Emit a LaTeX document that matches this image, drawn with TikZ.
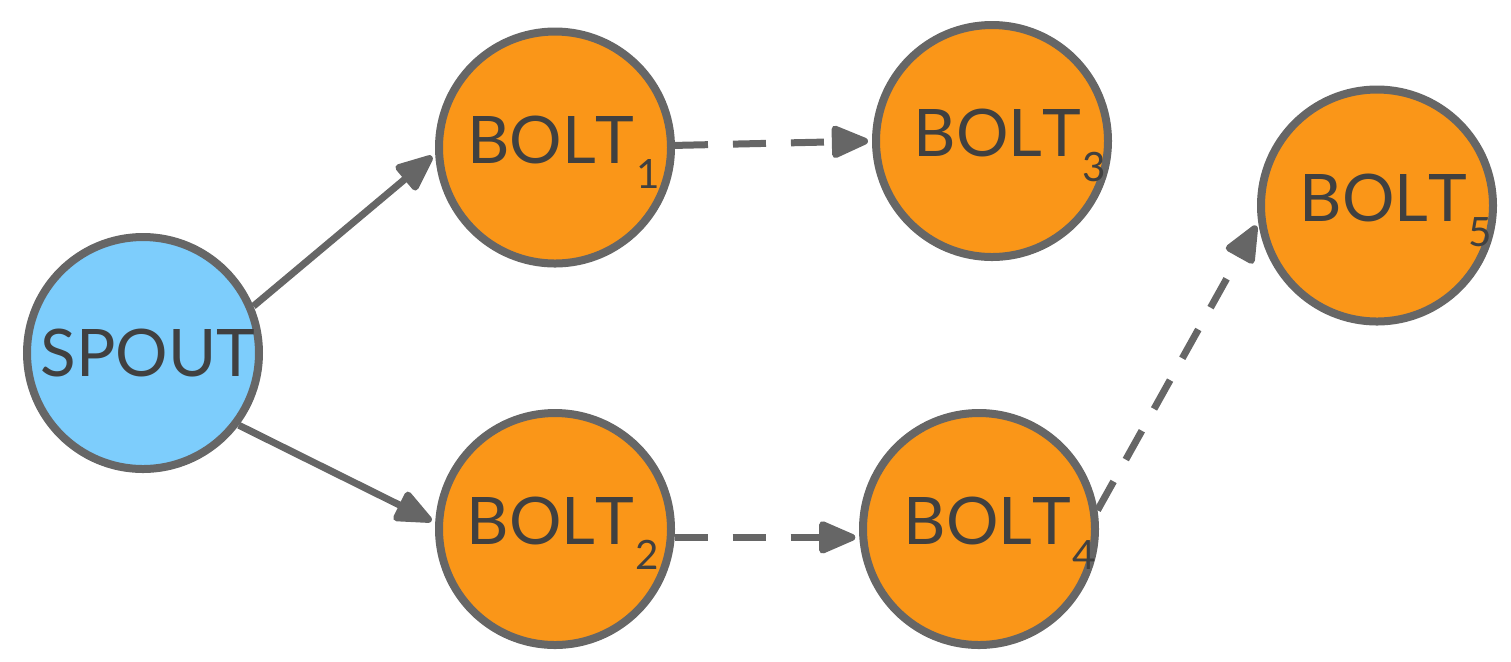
\documentclass[tikz,border=0pt]{standalone}
\usepackage{fontspec}
\setmainfont{Lato}[Kerning=Off]
\usetikzlibrary{arrows.meta}
\definecolor{edgegray}{HTML}{666666}
\definecolor{txtgray}{HTML}{404040}
\definecolor{boltorange}{RGB}{250,150,24}
\definecolor{spoutblue}{RGB}{125,205,252}
\newcommand{\bsub}[1]{\raisebox{-12.5pt}{\fontsize{20.2}{20.2}\selectfont #1}}
\newcommand{\shiftlabel}[2]{\makebox[0pt]{\hspace*{#1}#2}}
\newcommand{\boltlabel}[2]{\shiftlabel{#2}{BOLT\kern1pt\bsub{#1}}}
\begin{document}
\begin{tikzpicture}[x=0.5pt,y=-0.5pt,
  comp/.style={circle, draw=edgegray, line width=4pt, minimum size=116pt, inner sep=0pt, text=txtgray, font=\fontsize{32.8}{32.8}\selectfont},
  spout/.style={comp, fill=spoutblue},
  bolt/.style={comp, fill=boltorange, text height=23.5pt, text depth=8pt},
  flow/.style={draw=edgegray, line width=3.5pt, -{Triangle[length=21pt,width=17pt,round]}, shorten >=2pt},
  stream/.style={flow, dash pattern=on 16.5pt off 12.5pt}]
\useasboundingbox (0,0) rectangle (1511,661);
\node[spout] (spout) at (143,353) {\shiftlabel{5pt}{SPOUT}};
\node[bolt] (b1) at (555,147.5) {\boltlabel{1}{8.5pt}};
\node[bolt] (b2) at (555,529) {\boltlabel{2}{8pt}};
\node[bolt] (b3) at (992,141) {\boltlabel{3}{18pt}};
\node[bolt] (b4) at (979,529) {\boltlabel{4}{21pt}};
\node[bolt] (b5) at (1377,205.5) {\boltlabel{5}{19pt}};
\draw[flow] (spout.23) -- (b1.183.5);
\draw[flow] (spout.-37.3) -- (b2.177.3);
\draw[stream] (b1.1.7) -- (b3.180.3);
\draw[stream] (b2.-4.2) -- (b4.184.7);
\draw[stream] (b4.9.9) -- (b5.188.5);
\end{tikzpicture}
\end{document}
